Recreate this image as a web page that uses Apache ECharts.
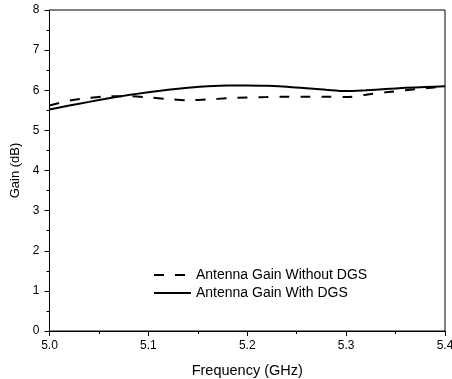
<!DOCTYPE html>
<html>
<head>
<meta charset="utf-8">
<script src="https://cdn.jsdelivr.net/npm/echarts@6/dist/echarts.min.js"></script>
<style>
  html, body { margin: 0; padding: 0; background: #fff; }
  #chart { width: 452px; height: 379px; }
</style>
</head>
<body>
<div id="chart"></div>
<script>
// frequency samples (GHz)
const freq = [5.00, 5.02, 5.04, 5.06, 5.08, 5.10, 5.12, 5.14, 5.16, 5.18, 5.20,
              5.22, 5.24, 5.26, 5.28, 5.30, 5.32, 5.34, 5.36, 5.38, 5.40];
// gain without DGS (dB), dashed
const gainNoDgs = [5.62, 5.74, 5.81, 5.85, 5.85, 5.82, 5.78, 5.75, 5.77, 5.80, 5.82,
                   5.83, 5.84, 5.84, 5.84, 5.83, 5.89, 5.95, 6.00, 6.05, 6.09];
// gain with DGS (dB), solid
const gainDgs = [5.52, 5.62, 5.71, 5.80, 5.88, 5.95, 6.01, 6.06, 6.10, 6.12, 6.12,
                 6.11, 6.09, 6.05, 6.01, 5.98, 6.00, 6.03, 6.06, 6.08, 6.10];

const seriesNames = ["Antenna Gain Without DGS", "Antenna Gain With DGS"];

const font = "Liberation Sans, Arial, sans-serif";
const ink = "#000";

const chart = echarts.init(document.getElementById("chart"), null, { renderer: "canvas" });

chart.setOption({
  backgroundColor: "#fff",
  animation: false,
  textStyle: { fontFamily: font, color: ink },
  grid: {
    left: 49.5, right: 7, top: 10, bottom: 48,
    outerBoundsMode: "none",
    containLabel: false,
    show: true, borderColor: ink, borderWidth: 1, backgroundColor: "transparent"
  },
  legend: {
    orient: "vertical",
    left: 148, top: 262,
    itemWidth: 37, itemHeight: 14, itemGap: 2,
    itemStyle: { opacity: 0 },
    textStyle: { fontFamily: font, fontSize: 14, lineHeight: 16, color: ink },
    data: seriesNames
  },
  xAxis: {
    type: "value",
    min: 5.0, max: 5.4, interval: 0.1,
    name: "Frequency (GHz)",
    nameLocation: "middle",
    nameGap: 32,
    nameTextStyle: { fontFamily: font, fontSize: 14.5, color: ink },
    axisLine: { show: true, onZero: false, lineStyle: { color: ink, width: 1 } },
    axisTick: { show: true, inside: false, length: 5, lineStyle: { color: ink } },
    minorTick: { show: true, splitNumber: 2, length: 3, lineStyle: { color: ink } },
    splitLine: { show: false },
    axisLabel: { fontFamily: font, fontSize: 12, color: ink, margin: 9,
                 formatter: (v) => v.toFixed(1) }
  },
  yAxis: {
    type: "value",
    min: 0, max: 8, interval: 1,
    name: "Gain (dB)",
    nameLocation: "middle",
    nameGap: 19,
    nameTextStyle: { fontFamily: font, fontSize: 13, color: ink },
    axisLine: { show: true, onZero: false, lineStyle: { color: ink, width: 1 } },
    axisTick: { show: true, inside: false, length: 5, lineStyle: { color: ink } },
    minorTick: { show: true, splitNumber: 2, length: 3, lineStyle: { color: ink } },
    splitLine: { show: false },
    axisLabel: { fontFamily: font, fontSize: 12, color: ink, margin: 10 }
  },
  series: [
    {
      name: seriesNames[0],
      type: "line",
      data: freq.map((f, i) => [f, gainNoDgs[i]]),
      showSymbol: false,
      symbol: "none",
      smooth: 0.3,
      lineStyle: { color: ink, width: 2, type: [10, 11] },
      itemStyle: { color: ink }
    },
    {
      name: seriesNames[1],
      type: "line",
      data: freq.map((f, i) => [f, gainDgs[i]]),
      showSymbol: false,
      symbol: "none",
      smooth: 0.3,
      lineStyle: { color: ink, width: 2 },
      itemStyle: { color: ink }
    }
  ]
});
</script>
</body>
</html>
